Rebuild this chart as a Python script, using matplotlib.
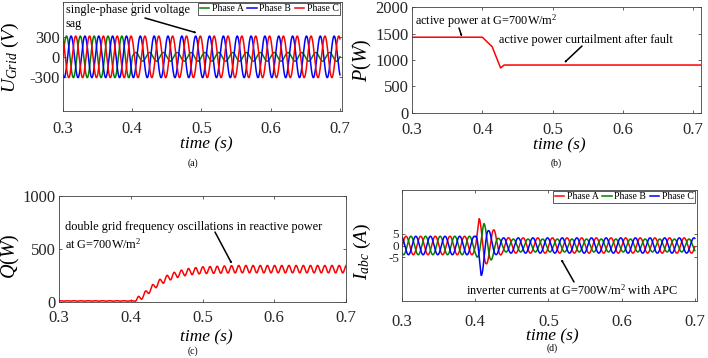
import numpy as np
import matplotlib
matplotlib.use("Agg")
import matplotlib.pyplot as plt
from matplotlib.patches import FancyArrowPatch

plt.rcParams['font.family'] = ['Liberation Serif', 'DejaVu Serif']
plt.rcParams['mathtext.fontset'] = 'custom'
plt.rcParams['mathtext.rm'] = 'Liberation Serif'
plt.rcParams['mathtext.it'] = 'Liberation Serif:italic'
plt.rcParams['mathtext.bf'] = 'Liberation Serif:bold'

# ---------------- data ----------------
grid_freq = 50.0                      # Hz
fault_time = 0.40                     # s
t_start, t_end = 0.30, 0.70

# (a) grid voltages: peak amplitude before / after the sag, phase offsets
volt_phases = ['Phase A', 'Phase B', 'Phase C']
volt_colors = ['#008000', '#0000ff', '#ff0000']
volt_amp_pre = [311, 311, 311]
volt_amp_post = [65, 311, 311]
volt_shift_deg = [0, -120, 120]

# (b) active power vertices
p_time = [0.300, 0.400, 0.414, 0.426, 0.431, 0.711]
p_value = [1430, 1430, 1250, 850, 905, 905]

# (c) reactive power: mean level and ripple (double grid frequency)
q_time = [0.300, 0.405, 0.410, 0.420, 0.430, 0.440, 0.450, 0.460, 0.470, 0.480, 0.500, 0.550, 0.700]
q_mean = [10, 10, 25, 75, 135, 185, 222, 250, 270, 285, 300, 310, 310]
q_ripple = [2, 2, 25, 25, 26, 27, 28, 29, 30, 31, 32, 35, 35]
q_ripple_freq = 100.0

# (d) inverter currents: peak envelopes per phase
cur_phases = ['Phase A', 'Phase B', 'Phase C']
cur_colors = ['#ff0000', '#008000', '#0000ff']
cur_env_t = [[0.300, 0.400, 0.4055, 0.415, 0.427, 0.437, 0.450, 0.700],
             [0.300, 0.400, 0.405, 0.412, 0.422, 0.432, 0.440, 0.700],
             [0.300, 0.400, 0.408, 0.418, 0.428, 0.438, 0.450, 0.700]]
cur_env_a = [[4.0, 4.0, 11.6, 8.0, 6.6, 3.5, 3.3, 3.3],
             [4.0, 4.0, 6.0, 9.5, 6.2, 3.0, 2.8, 2.8],
             [4.0, 4.0, 13.3, 6.6, 4.0, 3.3, 3.3, 3.3]]
cur_ref_peak = 0.4055
cur_shift_deg = [0, -120, 120]

x_ticks = [0.3, 0.4, 0.5, 0.6, 0.7]
x_ticklabels = ['0.3', '0.4', '0.5', '0.6', '0.7']

# ---------------- figure ----------------
W, H = 708, 358
fig = plt.figure(figsize=(W / 100, H / 100), dpi=100)

def box(l, t, r, b):
    return [l / W, 1 - b / H, (r - l) / W, (b - t) / H]

def fp(x, y):
    return (x / W, 1 - y / H)

axa = fig.add_axes(box(63, 2, 342, 111))
axb = fig.add_axes(box(412, 7, 701, 113))
axc = fig.add_axes(box(59, 196, 346, 302))
axd = fig.add_axes(box(402, 190, 697, 301))

t = np.linspace(t_start, t_end, 8001)
w = 2 * np.pi * grid_freq

# (a)
for name, col, a0, a1, sh in zip(volt_phases, volt_colors, volt_amp_pre, volt_amp_post, volt_shift_deg):
    amp = np.where(t < fault_time, a0, a1)
    axa.plot(t, amp * np.sin(w * t + np.deg2rad(sh)), color=col, lw=1.1, label=name)
axa.set_xlim(0.3, 0.703)
axa.set_ylim(-810, 820)
axa.set_yticks([-300, 0, 300])
axa.set_yticklabels(['-300', '0', '300'])

# (b)
axb.plot(p_time, p_value, color='#ff0000', lw=1.1)
axb.set_xlim(0.3, 0.711)
axb.set_ylim(0, 2000)
axb.set_yticks([0, 500, 1000, 1500, 2000])

# (c)
mean = np.interp(t, q_time, q_mean)
rip = np.interp(t, q_time, q_ripple)
qv = mean + rip * np.sin(2 * np.pi * q_ripple_freq * (t - 0.4105) + np.pi / 2)
axc.plot(t, qv, color='#ff0000', lw=1.1)
axc.set_xlim(0.3, 0.7)
axc.set_ylim(0, 1000)
axc.set_yticks([0, 500, 1000])

# (d)
for name, col, et, ea, sh in zip(cur_phases, cur_colors, cur_env_t, cur_env_a, cur_shift_deg):
    amp = np.interp(t, et, ea)
    axd.plot(t, amp * np.cos(w * (t - cur_ref_peak) + np.deg2rad(sh)), color=col, lw=1.1, label=name)
axd.set_xlim(0.3, 0.703)
axd.set_ylim(-24, 24)
axd.set_yticks([-5, 0, 5])
axd.set_yticklabels(['-5', '0', '5'])

for ax, xpad in zip([axa, axb, axc, axd], [7, 6.5, 5.8, 9]):
    ax.set_xticks(x_ticks)
    ax.set_xticklabels(x_ticklabels)
    ax.tick_params(direction='in', top=True, right=True, length=2.5, width=0.5,
                   labelsize=12, colors='#262626')
    ax.tick_params(axis='x', pad=xpad)
    ax.tick_params(axis='y', pad=2.5)
    for s in ax.spines.values():
        s.set_linewidth(0.6)
        s.set_color('#404040')
    ax.set_facecolor('white')
axd.tick_params(axis='y', labelsize=9.5, pad=2)

# legends
leg_kw = dict(ncol=3, fontsize=7, handlelength=1.0, handletextpad=0.25, columnspacing=0.35,
              borderpad=0.15, borderaxespad=0, fancybox=False, framealpha=1,
              bbox_transform=fig.transFigure, loc='upper right')
la = axa.legend(bbox_to_anchor=fp(340, 3), **leg_kw)
ld = axd.legend(bbox_to_anchor=fp(695, 191), **leg_kw)
for lg in (la, ld):
    lg.get_frame().set_edgecolor('#404040')
    lg.get_frame().set_linewidth(0.6)

# y labels
fig.text(*fp(10, 57), r'$U_{Grid}\ (V)$', rotation=90, ha='center', va='center', fontsize=14)
fig.text(*fp(362, 60), r'$P(W)$', rotation=90, ha='center', va='center', fontsize=14.5)
fig.text(*fp(10, 256), r'$Q(W)$', rotation=90, ha='center', va='center', fontsize=14.5)
fig.text(*fp(362, 251), r'$I_{abc}\ (A)$', rotation=90, ha='center', va='center', fontsize=14)

# x labels and captions
for (x, y) in [(206, 144), (559, 145), (206, 337), (552, 336)]:
    fig.text(*fp(x, y), 'time (s)', style='italic', ha='center', va='center', fontsize=12.5)
for s, (x, y) in zip(['(a)', '(b)', '(c)', '(d)'], [(193, 163), (556, 163), (193, 351), (552, 348)]):
    fig.text(*fp(x, y), s, ha='center', va='center', fontsize=7)

# annotations
arrow = dict(arrowstyle='-|>,head_length=0.5,head_width=0.2', color='k', lw=1.1,
             shrinkA=0, shrinkB=0, transform=fig.transFigure)
fs = 8.8
fig.text(*fp(66, 4), 'single-phase grid voltage\nsag', ha='left', va='top', fontsize=fs, linespacing=1.2)
fig.add_artist(FancyArrowPatch(fp(145, 18), fp(197, 33), **arrow))

fig.text(*fp(415, 21), r'active power at G=700W/m$^2$', ha='left', va='center', fontsize=fs)
fig.add_artist(FancyArrowPatch(fp(459, 28), fp(462, 37), **arrow))
fig.text(*fp(499, 40), 'active power curtailment after fault', ha='left', va='center', fontsize=fs)
fig.add_artist(FancyArrowPatch(fp(582, 46), fp(564, 63), **arrow))

fig.text(*fp(65, 227), 'double grid frequency oscillations in reactive power', ha='left', va='center', fontsize=fs)
fig.text(*fp(65, 244), r'at G=700W/m$^2$', ha='left', va='center', fontsize=fs)
fig.add_artist(FancyArrowPatch(fp(215, 232), fp(232, 264), **arrow))

fig.text(*fp(466, 290), r'inverter currents at G=700W/m$^2$ with APC', ha='left', va='center', fontsize=fs)
fig.add_artist(FancyArrowPatch(fp(574, 282), fp(561, 259), **arrow))

fig.savefig('out.png', dpi=100, facecolor='white')
